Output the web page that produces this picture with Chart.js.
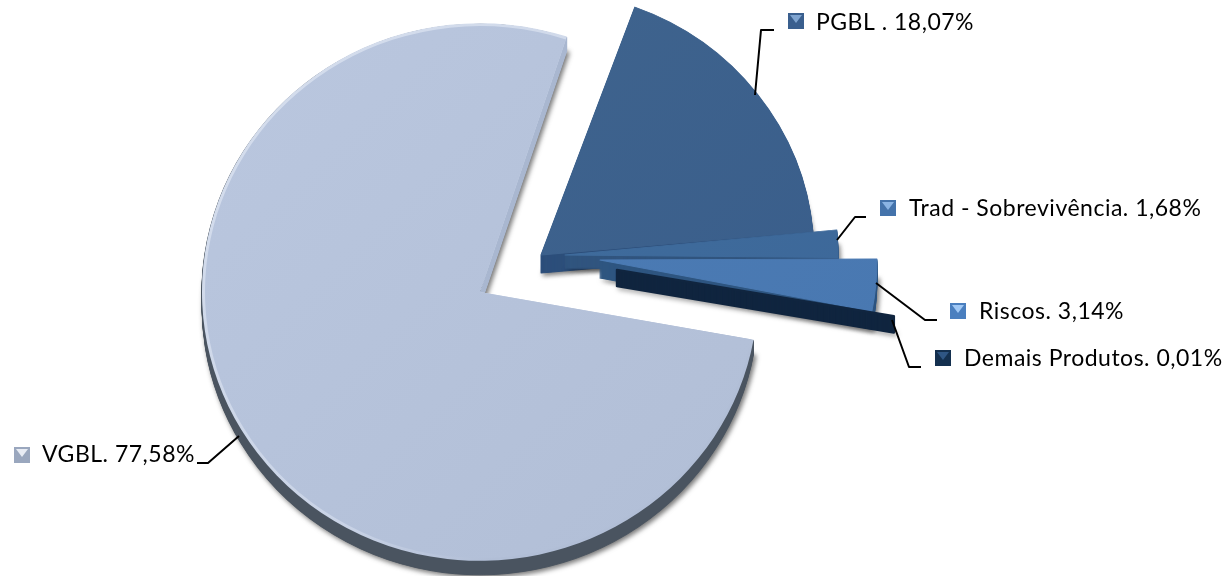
<!DOCTYPE html>
<html lang="pt">
<head>
<meta charset="utf-8">
<title>Produtos</title>
<script src="https://cdn.jsdelivr.net/npm/chart.js@4/dist/chart.umd.min.js"></script>
<style>
  html, body { margin: 0; background: #fff; }
  #wrap { width: 1232px; height: 576px; }
</style>
</head>
<body>
<div id="wrap"><canvas id="pie" width="1232" height="576"></canvas></div>
<script>
// data, same order as the slices run clockwise
const categories = ['PGBL .', 'Trad - Sobrevivência.', 'Riscos.', 'Demais Produtos.', 'VGBL.'];
const shares = [18.07, 1.68, 3.14, 0.01, 77.58];
const shareLabels = ['18,07%', '1,68%', '3,14%', '0,01%', '77,58%'];

// look of the slices
const faceLight = ['#41668f', '#41709f', '#4d7db6', '#10263f', '#bac7df'];
const faceDark = ['#385c8a', '#3c6698', '#4877b0', '#10263f', '#b1bed6'];
const sideColors = ['#2d4f7b', '#31557f', '#2f5680', '#10253f', '#4a5460'];
const sliceRadius = [273, 273, 277, 281, 278];
const sliceTurn = [1.6, 1.3, 0.5, -0.7, -0.3]; // perspective of the 3d view, degrees
const explodeX = [63, 87, 122, 139, 2];
const explodeY = [-36, -36, -31, -21, 1];
const sliceDepth = [18, 13, 18, 16, 14];
const paintOrder = [4, 0, 1, 2, 3];
const squash = 0.967;

// legend boxes and leader lines
const markerX = [788, 880, 950, 935, 14];
const markerY = [13, 200, 303, 350, 447];
const textX = [816, 909, 979, 964, 42];
const textY = [30, 216, 319, 366, 462];
const markerTop = ['#7fa4d0', '#8ab4e4', '#a0c8f5', '#2f5684', '#e8ecf4'];
const markerBase = ['#3a5f8e', '#4473ab', '#4a7fbf', '#14304f', '#9aa7be'];
const leaders = [
  [[774, 30], [761, 30], [755, 95]],
  [[866, 217], [855, 217], [837, 240]],
  [[937, 320], [925, 320], [876, 283]],
  [[921, 367], [909, 367], [892, 320]],
  [[197, 463], [208, 463], [239, 436]],
];

function paintArc(ctx, arc, fill, stroke, width, trim) {
  const copy = Object.create(arc);
  copy.outerRadius = arc.outerRadius - (trim || 0);
  copy.options = {
    backgroundColor: fill, borderColor: stroke, borderWidth: width, borderAlign: 'center',
    borderJoinStyle: 'round', borderRadius: 0, borderDash: [], borderDashOffset: 0,
    offset: 0, spacing: 0, circular: true,
  };
  arc.draw.call(copy, ctx);
}

const pie3d = {
  id: 'pie3d',
  afterDatasetsUpdate(chart) {
    chart.getDatasetMeta(0).data.forEach((arc, i) => { arc.outerRadius = sliceRadius[i]; });
  },
  beforeDatasetsDraw(chart) {
    const ctx = chart.ctx;
    const arcs = chart.getDatasetMeta(0).data;
    paintOrder.forEach(i => {
      const arc = arcs[i];
      const place = k => {
        ctx.translate(arc.x + explodeX[i], arc.y + explodeY[i] + k);
        ctx.scale(1, squash);
        ctx.rotate(sliceTurn[i] * Math.PI / 180);
        ctx.translate(-arc.x, -arc.y);
      };
      // the side of the slice: copies of the arc going down, shadow on the lowest
      let side = sideColors[i];
      if (i === 4) {
        side = ctx.createConicGradient(-Math.PI / 2, arc.x, arc.y);
        side.addColorStop(0, '#4a5460');
        side.addColorStop(0.04, '#4a5460');
        side.addColorStop(0.05, '#a9b7d0');
        side.addColorStop(0.27, '#a9b7d0');
        side.addColorStop(0.28, '#4a5460');
        side.addColorStop(1, '#4a5460');
      }
      for (let k = sliceDepth[i]; k >= 1; k--) {
        ctx.save();
        if (k === sliceDepth[i]) {
          ctx.shadowColor = 'rgba(0,0,0,0.55)';
          ctx.shadowBlur = 5;
          ctx.shadowOffsetX = 2;
          ctx.shadowOffsetY = 2;
        }
        place(k);
        paintArc(ctx, arc, side, side, i === 3 ? 2.5 : 1);
        ctx.restore();
      }
      // the top face
      ctx.save();
      place(0);
      const grad = ctx.createLinearGradient(arc.x - 277, arc.y - 277, arc.x + 277, arc.y + 277);
      grad.addColorStop(0, faceLight[i]);
      grad.addColorStop(1, faceDark[i]);
      if (i === 4) {
        // lighter rim along the curved edge only
        const rim = ctx.createLinearGradient(arc.x - 277, arc.y - 100, arc.x + 20, arc.y + 270);
        rim.addColorStop(0, '#d3dcec');
        rim.addColorStop(0.75, '#c9d3e6');
        rim.addColorStop(1, '#b1bed6');
        paintArc(ctx, arc, rim, rim, 0);
        paintArc(ctx, arc, grad, grad, 0, 3);
      } else if (i === 3) {
        paintArc(ctx, arc, sideColors[3], sideColors[3], 2.5);
      } else {
        paintArc(ctx, arc, grad, grad, 1);
      }
      ctx.restore();
    });
    return false;
  },
  afterDraw(chart) {
    const ctx = chart.ctx;
    ctx.save();
    categories.forEach((name, i) => {
      // leader line
      ctx.strokeStyle = '#000';
      ctx.lineWidth = 2;
      ctx.lineJoin = 'round';
      ctx.beginPath();
      leaders[i].forEach(([x, y], n) => (n ? ctx.lineTo(x, y) : ctx.moveTo(x, y)));
      ctx.stroke();
      // bevelled legend box
      const x = markerX[i], y = markerY[i], s = 16;
      ctx.fillStyle = markerBase[i];
      ctx.fillRect(x, y, s, s);
      ctx.fillStyle = markerTop[i];
      ctx.beginPath();
      ctx.moveTo(x + 2, y + 2);
      ctx.lineTo(x + s - 2, y + 2);
      ctx.lineTo(x + s / 2, y + s / 2 + 2);
      ctx.closePath();
      ctx.fill();
      // label
      ctx.fillStyle = '#000';
      ctx.font = '23px Lato, "Open Sans", sans-serif';
      ctx.letterSpacing = '0.5px';
      ctx.textBaseline = 'alphabetic';
      ctx.textAlign = 'left';
      ctx.fillText(name + ' ' + shareLabels[i], textX[i], textY[i]);
    });
    ctx.restore();
  },
};

new Chart(document.getElementById('pie'), {
  type: 'pie',
  data: {
    labels: categories,
    datasets: [{ data: shares, backgroundColor: faceDark, borderWidth: 0, radius: 277 }],
  },
  options: {
    responsive: false,
    animation: false,
    rotation: 18.5,
    layout: { padding: { left: 0, right: 276, top: 6, bottom: 0 } },
    plugins: { legend: { display: false }, tooltip: { enabled: false } },
  },
  plugins: [pie3d],
});
</script>
</body>
</html>
